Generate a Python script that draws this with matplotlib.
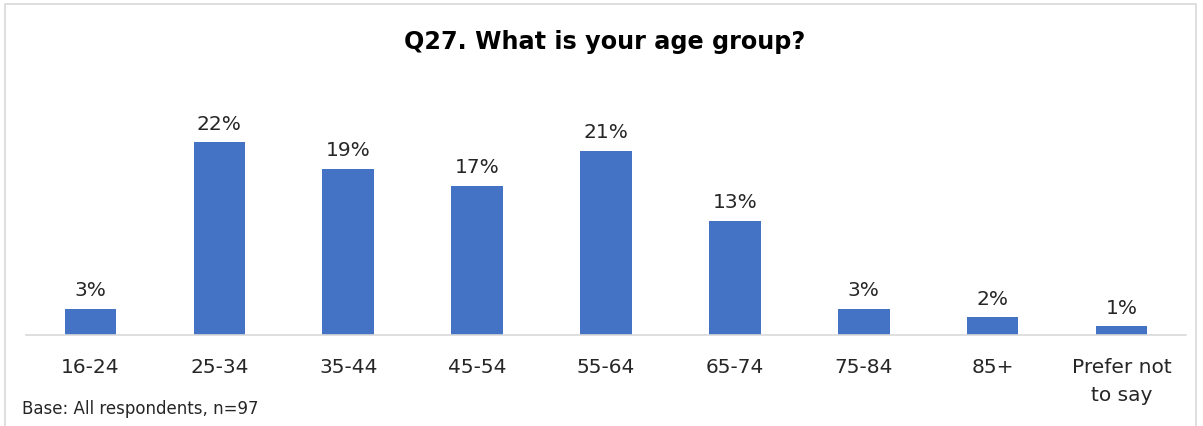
import matplotlib.pyplot as plt
from matplotlib.patches import Rectangle

# Data
categories = ['16-24', '25-34', '35-44', '45-54', '55-64', '65-74', '75-84', '85+', 'Prefer not\nto say']
values = [3, 22, 19, 17, 21, 13, 3, 2, 1]

plt.rcParams['font.family'] = ['DejaVu Sans']

fig = plt.figure(figsize=(12.03, 4.27), dpi=100)
ax = fig.add_axes([26 / 1203, 91 / 427, 1160 / 1203, 219 / 427])

x = range(len(categories))
bars = ax.bar(x, values, width=0.4, color='#4472C4')

for b, v in zip(bars, values):
    ax.annotate(f'{v}%', (b.get_x() + b.get_width() / 2, v),
                xytext=(0, 7), textcoords='offset points',
                ha='center', va='bottom', fontsize=14.5, color='#262626')

ax.set_xlim(-0.5, len(categories) - 0.5)
ax.set_ylim(0, 25)
ax.set_xticks(list(x))
ax.set_xticklabels(categories, fontsize=14.5, color='#262626', va='top', linespacing=1.6)
ax.tick_params(axis='x', length=0, pad=16)
ax.set_yticks([])
for s in ['top', 'right', 'left']:
    ax.spines[s].set_visible(False)
ax.spines['bottom'].set_color('#D9D9D9')
ax.spines['bottom'].set_linewidth(1.2)

fig.text(0.503, 1 - 42 / 427, 'Q27. What is your age group?', ha='center', va='center',
         fontsize=17.2, fontweight='bold', color='black')
fig.text(22 / 1203, 1 - 409 / 427, 'Base: All respondents, n=97', ha='left', va='center',
         fontsize=12, color='#262626')

# chart border
fig.patches.append(Rectangle((5 / 1203, -0.1), 1191 / 1203, 1.1 - 5 / 427,
                             transform=fig.transFigure, fill=False,
                             edgecolor='#D9D9D9', linewidth=1.2))

fig.savefig('out.png', dpi=100)
